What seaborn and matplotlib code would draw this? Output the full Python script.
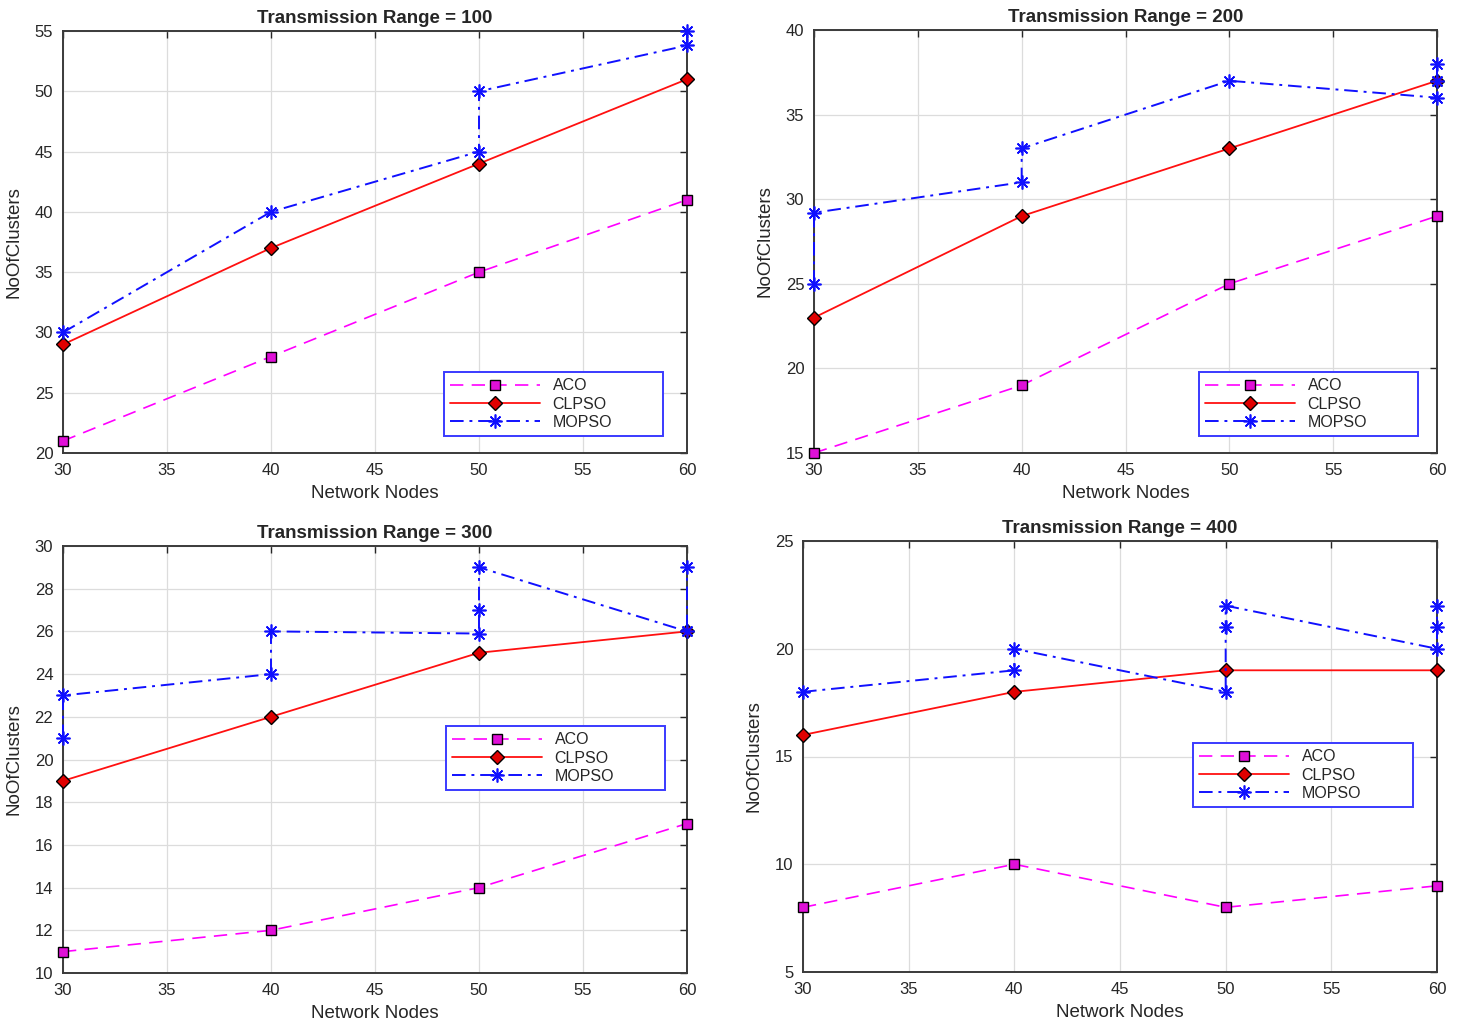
import matplotlib
matplotlib.use("Agg")
import matplotlib.pyplot as plt
import numpy as np
import seaborn as sns

# ── data ────────────────────────────────────────────────────────────────
nodes = [30, 40, 50, 60]
ranges = [100, 200, 300, 400]

aco = {
    100: [21, 28, 35, 41],
    200: [15, 19, 25, 29],
    300: [11, 12, 14, 17],
    400: [8, 10, 8, 9],
}
clpso = {
    100: [29, 37, 44, 51],
    200: [23, 29, 33, 37],
    300: [19, 22, 25, 26],
    400: [16, 18, 19, 19],
}
# MOPSO has several results per node count (drawn in this order)
mopso_x = {
    100: [30, 40, 50, 50, 60, 60],
    200: [30, 30, 40, 40, 50, 60, 60, 60],
    300: [30, 30, 40, 40, 50, 50, 50, 60, 60],
    400: [30, 40, 40, 50, 50, 50, 60, 60, 60],
}
mopso_y = {
    100: [30, 40, 45, 50, 53.8, 55],
    200: [25, 29.2, 31, 33, 37, 36, 37, 38],
    300: [21, 23, 24, 26, 25.9, 27, 29, 26, 29],
    400: [18, 19, 20, 18, 21, 22, 20, 21, 22],
}
ylims = {100: (20, 55), 200: (15, 40), 300: (10, 30), 400: (5, 25)}
ysteps = {100: 5, 200: 5, 300: 2, 400: 5}

# axes rectangles in pixels: left, top, right, bottom
boxes = {
    100: (63, 31, 687, 453),
    200: (814, 30, 1437, 453),
    300: (63, 546, 687, 973),
    400: (803, 541, 1437, 972),
}
# legend boxes in pixels: left, top, right, bottom
legend_boxes = {
    100: (444, 372, 663, 436),
    200: (1199, 372, 1418, 436),
    300: (446, 726, 665, 791),
    400: (1193, 743, 1413, 808),
}

W, H = 1461, 1027

sns.set_style("white")
plt.rcParams["font.family"] = ["Liberation Sans", "DejaVu Sans"]

fig = plt.figure(figsize=(W / 100, H / 100), dpi=100)

for tr in ranges:
    l, t, r, b = boxes[tr]
    ax = fig.add_axes([l / W, (H - b) / H, (r - l) / W, (b - t) / H])

    sns.lineplot(x=nodes, y=aco[tr], ax=ax, sort=False, estimator=None,
                 color="#ff00ff", linestyle=(0, (8, 5)), lw=1.2,
                 clip_on=False, zorder=4,
                 marker="s", markersize=7, markerfacecolor="#e010d8",
                 markeredgecolor="black", markeredgewidth=1.0, label="ACO")
    sns.lineplot(x=nodes, y=clpso[tr], ax=ax, sort=False, estimator=None,
                 color="#ff1010", linestyle="-", lw=1.3,
                 clip_on=False, zorder=4,
                 marker="D", markersize=7, markerfacecolor="#e00000",
                 markeredgecolor="black", markeredgewidth=1.0, label="CLPSO")
    sns.lineplot(x=mopso_x[tr], y=mopso_y[tr], ax=ax, sort=False, estimator=None,
                 color="#1010ff", linestyle=(0, (7, 3, 1.5, 3)), lw=1.4,
                 clip_on=False, zorder=4, marker=(8, 2, 0), markersize=10,
                 markeredgewidth=1.2, markeredgecolor="#1010ff", label="MOPSO")

    lo, hi = ylims[tr]
    ax.set_xlim(30, 60)
    ax.set_ylim(lo, hi)
    ax.set_xticks(np.arange(30, 61, 5))
    ax.set_yticks(np.arange(lo, hi + 0.1, ysteps[tr]))
    ax.grid(True, color="#dcdcdc", lw=0.9)
    ax.tick_params(direction="in", top=True, right=True, labelsize=12,
                   length=5, width=1, colors="#262626", pad=7)
    for s in ax.spines.values():
        s.set_color("#3a3a3a")
        s.set_linewidth(1.4)

    ax.set_title(f"Transmission Range = {tr}", fontsize=13.5,
                 fontweight="bold", pad=6)
    ax.set_xlabel("Network Nodes", fontsize=13.5, color="#262626", labelpad=5)
    ax.set_ylabel("NoOfClusters", fontsize=13.5, color="#262626", labelpad=9)

    # legend box placed in axes coordinates
    ll, lt, lr, lb = legend_boxes[tr]
    bx0 = (ll - l) / (r - l)
    by0 = (b - lb) / (b - t)
    bw = (lr - ll) / (r - l)
    bh = (lb - lt) / (b - t)
    leg = ax.legend(loc="upper left", bbox_to_anchor=(bx0, by0, bw, bh),
                    mode="expand", fontsize=11.5, handlelength=5.6,
                    borderaxespad=0, labelspacing=0.2, borderpad=0.4,
                    handletextpad=0.8, fancybox=False, framealpha=1)
    leg.get_frame().set_edgecolor("#3a3aff")
    leg.get_frame().set_linewidth(1.4)
    leg.set_zorder(5)

fig.savefig("out.png", dpi=100)
